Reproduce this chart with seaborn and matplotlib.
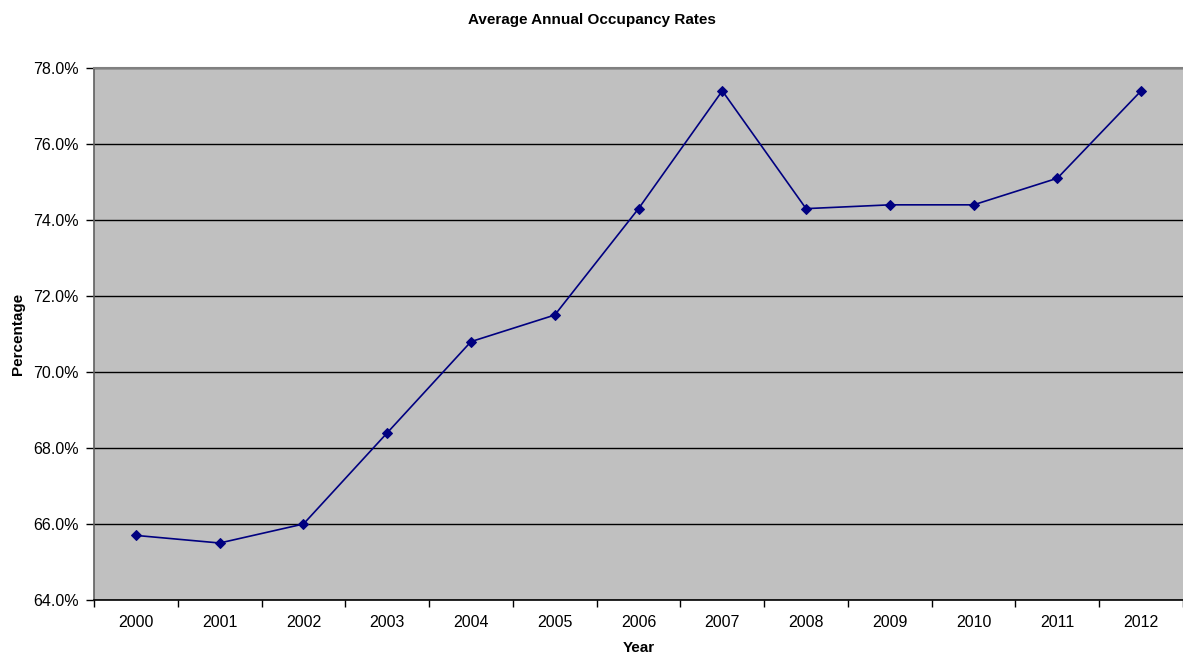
import matplotlib
matplotlib.use("Agg")
import matplotlib.pyplot as plt
from matplotlib.ticker import FixedLocator, FuncFormatter
import seaborn as sns
import pandas as pd

years = ["2000", "2001", "2002", "2003", "2004", "2005", "2006",
         "2007", "2008", "2009", "2010", "2011", "2012"]
occupancy = [65.7, 65.5, 66.0, 68.4, 70.8, 71.5, 74.3,
             77.4, 74.3, 74.4, 74.4, 75.1, 77.4]
y_ticks = [64, 66, 68, 70, 72, 74, 76, 78]

sns.set_theme(style="white")
plt.rcParams["font.family"] = ["Liberation Sans", "DejaVu Sans"]
plt.rcParams["text.color"] = "black"
plt.rcParams["axes.labelcolor"] = "black"
plt.rcParams["xtick.color"] = "black"
plt.rcParams["ytick.color"] = "black"

df = pd.DataFrame({"Year": years, "Occupancy": occupancy})
df["pos"] = range(len(years))

fig = plt.figure(figsize=(11.83, 6.60), dpi=100)
ax = fig.add_axes([0.0795, 0.0909, 0.9205, 0.806])
ax.set_facecolor("#C0C0C0")

sns.lineplot(data=df, x="pos", y="Occupancy", ax=ax, color="#000080",
             linewidth=1.2, marker="D", markersize=5,
             markerfacecolor="#000080", markeredgecolor="#000080")

ax.set_xlim(-0.5, len(years) - 0.5)
ax.set_ylim(64, 78)
ax.set_yticks(y_ticks)
ax.yaxis.set_major_formatter(FuncFormatter(lambda v, p: f"{v:.1f}%"))
ax.grid(axis="y", color="black", linewidth=1)
ax.set_axisbelow(True)

ax.set_xticks(range(len(years)))
ax.set_xticklabels(years)
ax.xaxis.set_minor_locator(FixedLocator([i - 0.5 for i in range(len(years) + 1)]))
ax.tick_params(axis="x", which="major", length=0, pad=10.5, labelsize=11.5)
ax.tick_params(axis="x", which="minor", length=5, width=1, color="black",
               direction="out", bottom=True)
ax.tick_params(axis="y", length=6, width=1, color="black", direction="out",
               left=True, labelsize=11.5, pad=5)

ax.spines["top"].set_color("#808080")
ax.spines["top"].set_linewidth(1.5)
ax.spines["right"].set_visible(False)
ax.spines["left"].set_color("#606060")
ax.spines["left"].set_linewidth(1.2)
ax.spines["bottom"].set_color("black")
ax.spines["bottom"].set_linewidth(1.2)

ax.set_xlabel("Year", fontsize=11, fontweight="bold", labelpad=8)
ax.set_ylabel("Percentage", fontsize=11, fontweight="bold", labelpad=6)
fig.text(0.5, 0.970, "Average Annual Occupancy Rates", ha="center", va="center",
         fontsize=11, fontweight="bold")

fig.savefig("out.png", dpi=100)
